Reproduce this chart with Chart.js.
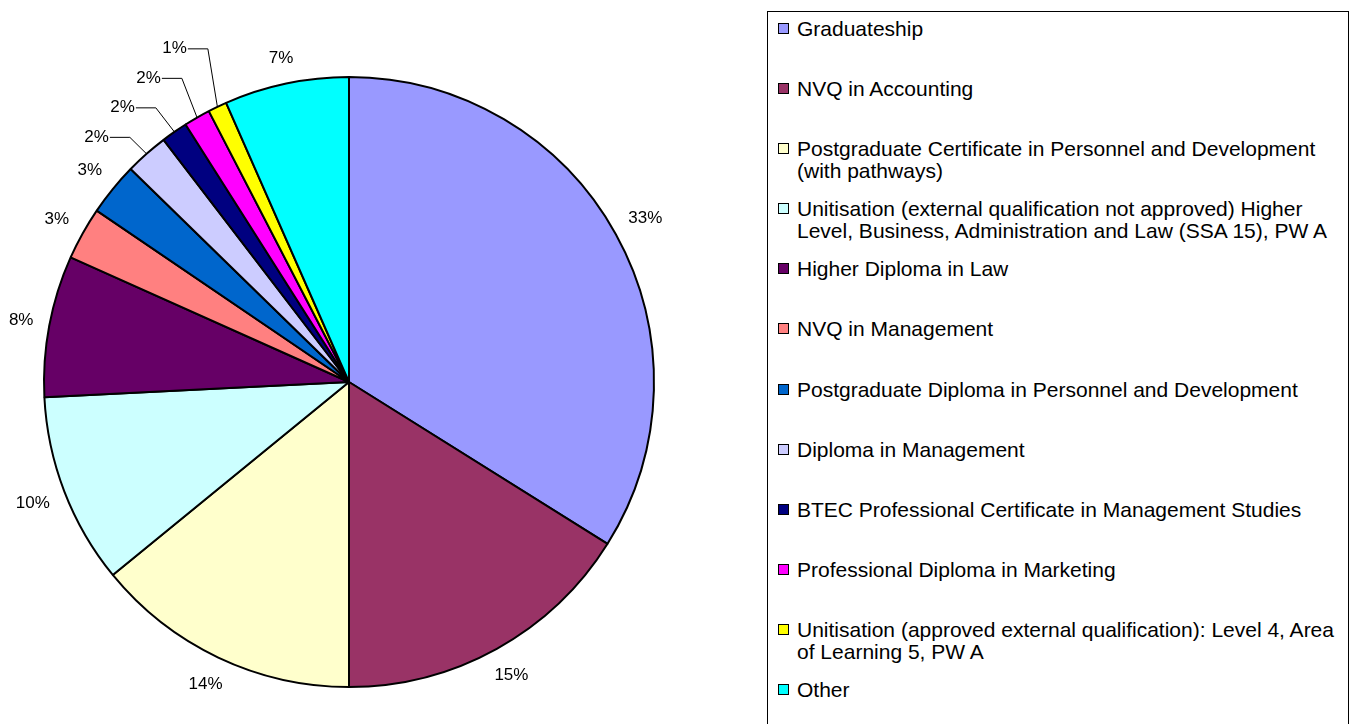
<!DOCTYPE html>
<html>
<head>
<meta charset="utf-8">
<script src="https://cdn.jsdelivr.net/npm/chart.js@4/dist/chart.umd.min.js"></script>
<style>
  body { margin: 0; background: #fff; width: 1349px; height: 724px; overflow: hidden; position: relative;
         font-family: "Liberation Sans", Arial, sans-serif; }
  #pie-wrap { position: absolute; left: 0; top: 0; width: 700px; height: 724px; }
  #legend { position: absolute; left: 767px; top: 11px; width: 582px; height: 760px;
            border: 1px solid #000; box-sizing: border-box; padding-top: 6px; }
  .legend-item { position: relative; height: 60.1px; padding-left: 29px; padding-right: 2px;
                 font-size: 21px; line-height: 22px; color: #000; }
  .legend-swatch { position: absolute; left: 10px; top: 5px; width: 11px; height: 11px;
                   border: 1px solid #000; box-sizing: border-box; }
</style>
</head>
<body>
<div id="pie-wrap"><canvas id="chart-qual"></canvas></div>
<div id="legend"></div>
<script>
// Qualifications held by respondents - pie, slices clockwise from 12 o'clock.

const categories = [
  "Graduateship",
  "NVQ in Accounting",
  "Postgraduate Certificate in Personnel and Development (with pathways)",
  "Unitisation (external qualification not approved)  Higher Level, Business, Administration and Law (SSA 15), PW A",
  "Higher Diploma in Law",
  "NVQ in Management",
  "Postgraduate Diploma in Personnel and Development",
  "Diploma in Management",
  "BTEC Professional Certificate in Management Studies",
  "Professional Diploma in Marketing",
  "Unitisation (approved external qualification): Level 4, Area of Learning 5, PW A",
  "Other",
];
const shares    = [33.9, 16.1, 14.1, 10.1, 7.5, 2.8, 2.8, 2.3, 1.4, 1.4, 1.0, 6.6];
const pctLabels = ["33%", "15%", "14%", "10%", "8%", "3%", "3%", "2%", "2%", "2%", "1%", "7%"];
const sliceColours = [
  "#9999ff", "#993366", "#ffffcc", "#ccffff", "#660066", "#ff8080",
  "#0066cc", "#ccccff", "#000080", "#ff00ff", "#ffff00", "#00ffff",
];

// small slices whose labels are stacked and joined by leader lines
const LEADER_SLICES = [7, 8, 9, 10];
const LABEL_FONT = '17px "Liberation Sans", Arial, sans-serif';

// ─── Legend (boxed, one slot per category) ───────────────────────────────────

document.getElementById("legend").innerHTML = categories.map((c, i) =>
  `<div class="legend-item"><span class="legend-swatch" style="background:${sliceColours[i]}"></span>${c}</div>`
).join("");

// ─── Percentage labels outside the pie ───────────────────────────────────────

const sliceLabels = {
  id: "sliceLabels",
  afterDatasetsDraw(chart) {
    const ctx  = chart.ctx;
    const arcs = chart.getDatasetMeta(0).data;
    ctx.save();
    ctx.font = LABEL_FONT;
    ctx.fillStyle = "#000";
    ctx.strokeStyle = "#000";
    ctx.lineWidth = 1;
    ctx.textAlign = "center";
    ctx.textBaseline = "middle";
    let first = null;
    arcs.forEach((arc, i) => {
      const mid  = (arc.startAngle + arc.endAngle) / 2;
      const ux   = Math.cos(mid), uy = Math.sin(mid);
      const r    = arc.outerRadius;
      const text = pctLabels[i];
      const w    = ctx.measureText(text).width;
      const k    = LEADER_SLICES.indexOf(i);
      if (k < 0) {
        const d = r + 15 + Math.abs(ux) * w / 2 + Math.abs(uy) * 8;
        ctx.fillText(text, arc.x + ux * d, arc.y + uy * d);
        return;
      }
      const ex = arc.x + ux * r, ey = arc.y + uy * r;
      if (!first) first = { x: ex - 50, y: ey - 17 };
      const cx = first.x + k * 26, cy = first.y - k * 29.5;
      ctx.fillText(text, cx, cy);
      ctx.beginPath();
      ctx.moveTo(cx + w / 2 + 1, cy + 0.5);
      ctx.lineTo(cx + w / 2 + 21, cy + 0.5);
      ctx.lineTo(ex, ey);
      ctx.stroke();
    });
    ctx.restore();
  },
};

new Chart(document.getElementById("chart-qual"), {
  type: "pie",
  data: {
    labels: categories,
    datasets: [{
      data: shares,
      backgroundColor: sliceColours,
      borderColor: "#000",
      borderWidth: 2,
    }],
  },
  options: {
    responsive: true,
    maintainAspectRatio: false,
    animation: false,
    layout: { padding: { left: 43, right: 45, top: 75, bottom: 35 } },
    plugins: { legend: { display: false }, tooltip: { enabled: false } },
  },
  plugins: [sliceLabels],
});
</script>
</body>
</html>
